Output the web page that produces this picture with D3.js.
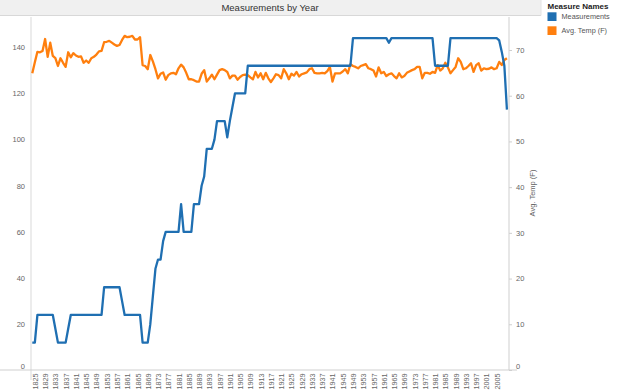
<!DOCTYPE html>
<html>
<head>
<meta charset="utf-8">
<script src="https://cdn.jsdelivr.net/npm/d3@7"></script>
<style>
  html, body { margin: 0; padding: 0; background: #fff; }
  svg { display: block; font-family: "Liberation Sans", Arial, sans-serif; }
</style>
</head>
<body>
<svg id="chart" width="640" height="392"></svg>
<script>
// ---- data ----
const firstYear = 1824;
const lastYear = 2009;
const xTickYears = [1825,1829,1833,1837,1841,1845,1849,1853,1857,1861,1865,1869,1873,1877,1881,1885,1889,1893,1897,1901,1905,1909,1913,1917,1921,1925,1929,1933,1937,1941,1945,1949,1953,1957,1961,1965,1969,1973,1977,1981,1985,1989,1993,1997,2001,2005];
const leftTicks = [0,20,40,60,80,100,120,140];
const rightTicks = [0,10,20,30,40,50,60,70];
const seriesNames = ["Measurements", "Avg. Temp (F)"];

// Measurements per year, 1824..2009
const measurements = [
  12,12,24,24,24,24,
  24,24,24,18,12,12,12,12,18,24,
  24,24,24,24,24,24,24,24,24,24,
  24,24,36,36,36,36,36,36,36,30,
  24,24,24,24,24,24,24,12,12,12,
  20,32,44,48,48,56,60,60,60,60,
  60,60,72,60,60,60,60,72,72,72,
  80,84,96,96,96,100,108,108,108,108,
  101,108,114,120,120,120,120,120,132,132,
  132,132,132,132,132,132,132,132,132,132,
  132,132,132,132,132,132,132,132,132,132,
  132,132,132,132,132,132,132,132,132,132,
  132,132,132,132,132,132,132,132,132,144,
  144,144,144,144,144,144,144,144,144,144,
  144,144,144,142,144,144,144,144,144,144,
  144,144,144,144,144,144,144,144,144,144,
  144,132,132,132,132,132,132,144,144,144,
  144,144,144,144,144,144,144,144,144,144,
  144,144,144,144,144,144,143,138,132,113
];

// Average temperature (F) per year, 1824..2009
const avgTemp = [
  64.9,67.3,69.6,69.5,69.8,72.4,
  68.5,71.6,68.7,68.2,66.5,68.2,67.2,66.3,69.5,68.4,
  69.3,68.8,68.5,68.6,67.2,67.7,67.2,68.2,68.5,69.0,
  69.7,69.8,71.7,71.8,72.0,71.6,71.2,70.9,71.1,72.2,
  73.1,72.8,72.9,73.1,72.3,72.3,72.8,66.7,66.5,65.8,
  68.9,67.5,65.8,63.8,64.8,65.1,63.5,64.5,64.9,65.0,
  64.7,66.0,66.8,66.2,65.0,63.6,63.6,63.4,63.1,63.1,
  64.8,65.6,63.1,63.8,64.6,63.6,64.6,65.6,65.8,65.6,
  65.2,63.8,64.4,64.4,63.5,64.1,64.5,64.6,64.5,64.0,
  63.6,65.2,64.0,64.9,63.6,65.0,63.8,63.0,63.8,64.7,
  64.5,63.8,65.8,64.9,63.6,64.8,64.4,65.2,64.2,64.7,
  64.9,65.1,65.8,66.0,65.0,64.9,64.9,65.0,64.9,65.4,
  66.3,63.1,64.9,64.9,64.9,65.3,65.8,64.9,66.9,66.5,
  66.3,66.0,66.5,66.7,66.9,66.0,65.8,65.5,64.2,66.2,
  64.9,65.2,64.3,64.7,64.9,64.3,63.8,64.9,64.0,64.3,
  65.0,65.3,65.6,65.8,66.3,66.3,63.8,65.0,65.0,64.8,
  65.2,65.0,66.7,65.5,66.0,67.2,66.2,64.9,65.6,66.3,
  68.2,67.4,65.8,66.0,66.5,67.1,65.2,66.7,67.1,65.5,
  66.0,65.8,65.9,66.2,65.8,66.0,67.4,66.7,67.8,68.2
];

// ---- chart ----
const years = d3.range(firstYear, lastYear + 1);
const colors = ["#1f6fb2", "#ff7f0e"];
const svg = d3.select("#chart");

const plot = { left: 31, right: 509, top: 17, bottom: 370 };

const x = d3.scaleLinear().domain([firstYear - 0.5, lastYear + 0.5]).range([plot.left, plot.right - 0.8]);
const yL = d3.scaleLinear().domain([0, 140]).range([370.3, 47.3]);
const yR = d3.scaleLinear().domain([0, 70]).range([370, 50]);

// title band
svg.append("rect").attr("x", 0).attr("y", 0).attr("width", 541).attr("height", 15.5).attr("fill", "#f0f0f0");
svg.append("line").attr("x1", 0).attr("x2", 541).attr("y1", 15.5).attr("y2", 15.5).attr("stroke", "#d8d8d8").attr("stroke-width", 1);
svg.append("line").attr("x1", 541).attr("x2", 541).attr("y1", 0).attr("y2", 15.5).attr("stroke", "#e4e4e4").attr("stroke-width", 1);
svg.append("text").attr("x", 270).attr("y", 10.5).attr("text-anchor", "middle")
  .attr("font-size", "9.5px").attr("fill", "#333").text("Measurements by Year");

// axis lines
svg.append("line").attr("x1", plot.left).attr("x2", plot.left).attr("y1", plot.top).attr("y2", plot.bottom + 10)
  .attr("stroke", "#d9d9d9").attr("stroke-width", 1);
svg.append("line").attr("x1", plot.right).attr("x2", plot.right).attr("y1", plot.top).attr("y2", plot.bottom)
  .attr("stroke", "#cfcfcf").attr("stroke-width", 1);
svg.append("line").attr("x1", 0).attr("x2", plot.right + 8).attr("y1", plot.bottom).attr("y2", plot.bottom)
  .attr("stroke", "#cfcfcf").attr("stroke-width", 1);

// left axis
const gL = svg.append("g").attr("transform", `translate(${plot.left},0)`)
  .call(d3.axisLeft(yL).tickValues(leftTicks).tickSize(0).tickPadding(6).tickFormat(d3.format("d")));
gL.select(".domain").remove();
gL.selectAll("text").attr("font-size", "7.5px").attr("fill", "#666").attr("font-family", "Liberation Sans, Arial, sans-serif")
  .attr("dy", d => d === 0 ? "-0.25em" : "0.32em");

// right axis
const gR = svg.append("g").attr("transform", `translate(${plot.right},0)`)
  .call(d3.axisRight(yR).tickValues(rightTicks).tickSize(3).tickPadding(4).tickFormat(d3.format("d")));
gR.select(".domain").remove();
gR.selectAll("line").attr("stroke", "#cfcfcf");
gR.selectAll("text").attr("font-size", "7.5px").attr("fill", "#666").attr("font-family", "Liberation Sans, Arial, sans-serif")
  .attr("dy", d => d === 0 ? "-0.25em" : "0.32em");

svg.append("text").attr("transform", `translate(535,193) rotate(-90)`).attr("text-anchor", "middle")
  .attr("font-size", "7.5px").attr("fill", "#666").text("Avg. Temp (F)");

// bottom axis
const gB = svg.append("g").attr("transform", `translate(0,${plot.bottom})`)
  .call(d3.axisBottom(x).tickValues(xTickYears).tickSize(0).tickFormat(d3.format("d")));
gB.select(".domain").remove();
gB.selectAll("text").attr("font-size", "7.2px").attr("fill", "#666").attr("font-family", "Liberation Sans, Arial, sans-serif")
  .attr("transform", "rotate(-90)").attr("text-anchor", "end").attr("x", -3.5).attr("y", 0).attr("dy", "0.35em");

// lines
const lineL = d3.line().x((d, i) => x(years[i])).y(d => yL(d));
const lineR = d3.line().x((d, i) => x(years[i])).y(d => yR(d));

svg.append("path").datum(avgTemp).attr("d", lineR).attr("fill", "none")
  .attr("stroke", colors[1]).attr("stroke-width", 2.3).attr("stroke-linejoin", "round");
svg.append("path").datum(measurements).attr("d", lineL).attr("fill", "none")
  .attr("stroke", colors[0]).attr("stroke-width", 2.3).attr("stroke-linejoin", "round");

// legend
const lg = svg.append("g");
lg.append("text").attr("x", 547.5).attr("y", 8.5).attr("font-size", "8px").attr("font-weight", "bold")
  .attr("fill", "#222").text("Measure Names");
seriesNames.forEach((name, i) => {
  lg.append("rect").attr("x", 547.5).attr("y", 12.3 + i * 14).attr("width", 9).attr("height", 8.7).attr("fill", colors[i]);
  lg.append("text").attr("x", 561.5).attr("y", 16.7 + i * 14).attr("dy", "0.35em").attr("font-size", "7.3px")
    .attr("fill", "#555").text(name);
});
</script>
</body>
</html>
